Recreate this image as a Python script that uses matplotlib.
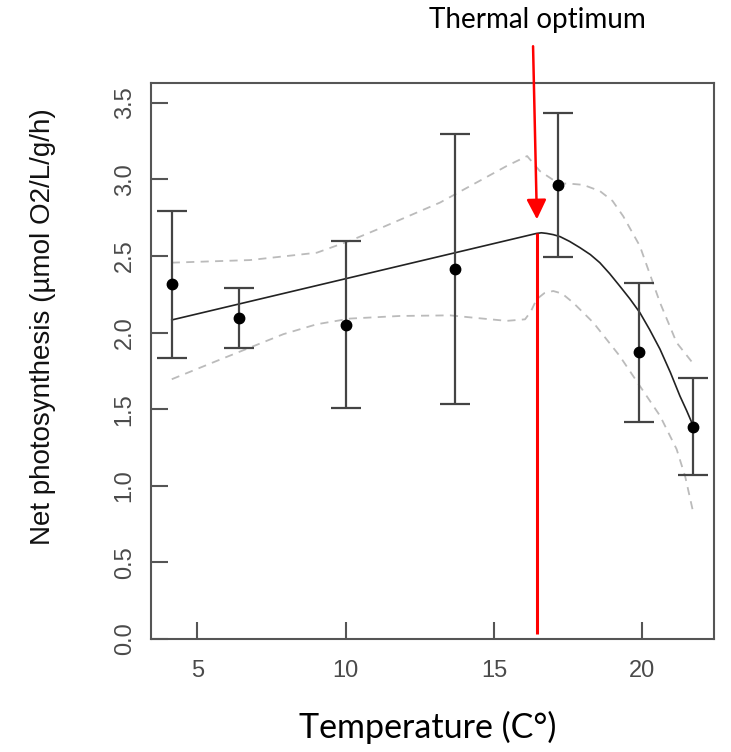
import numpy as np
import matplotlib
matplotlib.use("Agg")
import matplotlib.pyplot as plt

# observed means with error-bar limits
temp    = [4.14, 6.42, 10.01, 13.69, 17.17, 19.89, 21.72]
rate    = [2.316, 2.094, 2.050, 2.418, 2.961, 1.874, 1.385]
err_hi  = [2.794, 2.294, 2.598, 3.296, 3.436, 2.322, 1.701]
err_lo  = [1.833, 1.898, 1.505, 1.533, 2.496, 1.420, 1.070]

# fitted thermal performance curve
fit_x = [4.14, 16.44, 16.60, 16.78, 17.00, 17.23, 17.55, 17.90, 18.25, 18.57, 18.90,
         19.24, 19.58, 19.92, 20.25, 20.60, 20.95, 21.27, 21.50, 21.72]
fit_y = [2.083, 2.648, 2.652, 2.648, 2.640, 2.627, 2.596, 2.555, 2.510, 2.457, 2.386,
         2.305, 2.222, 2.131, 2.020, 1.892, 1.740, 1.587, 1.490, 1.391]

# confidence band (dashed)
up_x = [4.14, 6.78, 9.03, 10.15, 11.27, 13.18, 14.30, 15.43, 16.12, 16.55, 17.17, 17.60,
        18.01, 18.57, 19.00, 19.36, 19.92, 20.60, 21.16, 21.78]
up_y = [2.457, 2.474, 2.522, 2.600, 2.690, 2.849, 2.968, 3.088, 3.153, 3.055, 2.975, 2.972,
        2.965, 2.925, 2.860, 2.760, 2.566, 2.196, 1.935, 1.783]
lo_x = [4.14, 5.65, 6.78, 7.90, 9.03, 10.15, 11.83, 13.52, 14.30, 15.43, 16.05, 16.25,
        16.44, 16.70, 17.00, 17.30, 17.67, 18.35, 19.24, 19.92, 20.60, 21.16, 21.45, 21.72]
lo_y = [1.696, 1.815, 1.903, 1.990, 2.055, 2.092, 2.109, 2.113, 2.098, 2.077, 2.087, 2.140,
        2.218, 2.258, 2.272, 2.255, 2.196, 2.066, 1.848, 1.652, 1.457, 1.239, 1.060, 0.826]

t_opt = 16.45
peak = 2.65

W, H = 731, 752
fig = plt.figure(figsize=(W / 100, H / 100), dpi=100)
ax = fig.add_axes([151 / W, (H - 639) / H, 563 / W, 556 / H])

ax.plot(up_x, up_y, ls=(0, (4.5, 3.5)), color="#bbbbbb", lw=1.3)
ax.plot(lo_x, lo_y, ls=(0, (4.5, 3.5)), color="#bbbbbb", lw=1.3)
ax.plot(fit_x, fit_y, color="#222222", lw=1.2)

yerr = [np.array(rate) - np.array(err_lo), np.array(err_hi) - np.array(rate)]
ax.errorbar(temp, rate, yerr=yerr, fmt="o", color="black", ms=7.5,
            ecolor="#444444", elinewidth=1.6, capsize=11, capthick=1.6)

ax.vlines(t_opt, 0.03, peak, color="#ff0000", lw=2.2, zorder=5)
ax.annotate("", xy=(t_opt, 2.74), xytext=(16.32, 3.87),
            arrowprops=dict(arrowstyle="-|>,head_length=0.8,head_width=0.4",
                            mutation_scale=15, color="#ff0000", lw=1.8,
                            shrinkA=0, shrinkB=0),
            annotation_clip=False)

ax.set_xlim(3.44, 22.42)
ax.set_ylim(0, 3.63)
ax.set_xticks([5, 10, 15, 20])
ax.set_yticks([0.0, 0.5, 1.0, 1.5, 2.0, 2.5, 3.0, 3.5])
ax.set_yticklabels(["0.0", "0.5", "1.0", "1.5", "2.0", "2.5", "3.0", "3.5"],
                   rotation=90, va="center")
ax.tick_params(direction="in", length=12, width=1.5, color="#555555",
               labelsize=17, labelcolor="#4a4a4a", pad=11)
ax.tick_params(axis="x", pad=15)
for lab in ax.get_xticklabels() + ax.get_yticklabels():
    lab.set_family("Liberation Sans")
for s in ax.spines.values():
    s.set_color("#555555")
    s.set_linewidth(1.5)

fig.text(43 / W, 1 - 327 / H, "Net photosynthesis (\u00b5mol O2/L/g/h)", rotation=90,
         ha="center", va="center", fontsize=20, family="Liberation Sans", color="#111111")
fig.text(428 / W, 1 - 727 / H, "Temperature (C\u00b0)", ha="center", va="center",
         fontsize=24.5, family="Lato", color="black")
fig.text(537 / W, 1 - 20 / H, "Thermal optimum", ha="center", va="center",
         fontsize=20, family="Lato", color="black")

fig.savefig("out.png", dpi=100)
